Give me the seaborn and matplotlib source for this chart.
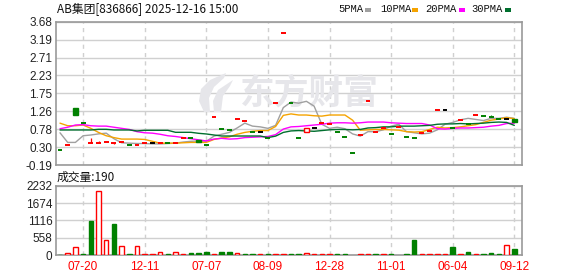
import numpy as np
import pandas as pd
import matplotlib
matplotlib.use("Agg")
import matplotlib.pyplot as plt
import seaborn as sns
from matplotlib.patches import Rectangle, PathPatch
from matplotlib.path import Path

# ---------------- data ----------------
title = "AB集团[836866] 2025-12-16 15:00"
xtick_labels = ["07-20", "12-11", "07-07", "08-09", "12-28", "11-01", "06-04", "09-12"]
price_tick_labels = ["-0.19", "0.30", "0.78", "1.26", "1.75", "2.23", "2.71", "3.19", "3.68"]
vol_tick_labels = ["0", "558", "1116", "1674", "2232"]
ma_names = ["5PMA", "10PMA", "20PMA", "30PMA"]

opens = [0.21, 0.35, 1.36, 0.94, 0.41, 0.40, 0.42, 0.41, 0.42, 0.35,
         0.35, 0.40, 0.40, 0.40, 0.40, 0.40, 0.53, 0.53, 0.48, 0.35,
         1.11, 0.79, 0.75, 1.05, 0.99, 0.70, 0.69, 0.55, 1.48, 3.37,
         1.48, 0.53, 0.69, 0.80, 0.94, 0.93, 0.69, 0.57, 0.13, 0.62,
         1.55, 0.69, 0.80, 0.65, 0.845, 0.56, 0.53, 0.67, 0.73, 1.30,
         1.30, 0.82, 1.02, 0.92, 1.16, 1.13, 1.11, 1.05, 1.06, 1.06]
closes = [0.21, 0.35, 1.17, 0.94, 0.41, 0.40, 0.42, 0.41, 0.42, 0.35,
          0.35, 0.40, 0.40, 0.40, 0.40, 0.40, 0.53, 0.53, 0.44, 0.35,
          1.11, 0.79, 0.75, 1.05, 0.99, 0.70, 0.69, 0.55, 1.48, 3.37,
          1.48, 0.53, 0.80, 0.80, 0.94, 0.93, 0.69, 0.57, 0.13, 0.62,
          1.55, 0.69, 0.80, 0.65, 0.845, 0.56, 0.53, 0.67, 0.73, 1.30,
          1.30, 0.82, 1.02, 0.92, 1.16, 1.13, 1.11, 1.05, 1.06, 0.98]
highs = [0.21, 0.35, 1.36, 0.94, 0.53, 0.46, 0.42, 0.41, 0.42, 0.35,
         0.35, 0.40, 0.40, 0.40, 0.40, 0.40, 0.53, 0.53, 0.48, 0.35,
         1.11, 0.79, 0.75, 1.05, 0.99, 0.70, 0.69, 0.55, 1.48, 3.37,
         1.48, 0.53, 0.80, 0.80, 0.94, 0.93, 0.69, 0.57, 0.13, 0.62,
         1.55, 0.69, 0.80, 0.65, 0.845, 0.56, 0.53, 0.67, 0.73, 1.30,
         1.30, 0.82, 1.02, 0.92, 1.16, 1.13, 1.16, 1.05, 1.06, 1.06]
lows = [0.21, 0.35, 1.17, 0.94, 0.41, 0.40, 0.42, 0.37, 0.42, 0.35,
        0.35, 0.40, 0.40, 0.40, 0.40, 0.40, 0.53, 0.53, 0.44, 0.35,
        1.11, 0.79, 0.75, 1.05, 0.99, 0.70, 0.69, 0.55, 1.48, 3.37,
        1.48, 0.53, 0.69, 0.80, 0.94, 0.93, 0.69, 0.57, 0.13, 0.62,
        1.55, 0.69, 0.80, 0.65, 0.845, 0.56, 0.53, 0.67, 0.73, 1.30,
        1.30, 0.82, 1.02, 0.92, 1.16, 1.13, 1.11, 1.05, 1.06, 0.98]
# candle direction: u = up, d = down, f = flat
candle_dir = list("duddu" "uuuud"
                  "uufud" "uuddd"
                  "udduu" "dfduu"
                  "ddufu" "udddu"
                  "uuudu" "dduuu"
                  "fdudu" "dddfd")
volumes = [15, 75, 250, 30, 1095, 2061, 483, 1009, 290, 30,
           290, 40, 40, 97, 30, 97, 40, 64, 64, 107,
           40, 107, 107, 64, 30, 30, 30, 30, 30, 30,
           30, 30, 64, 30, 30, 30, 30, 30, 0, 30,
           30, 30, 30, 30, 0, 30, 483, 30, 30, 30,
           30, 258, 30, 97, 30, 30, 64, 30, 322, 190]
vol_dir = list("duudd" "uudud"
               "uuuud" "uuddd"
               "uddud" "duduu"
               "dduuu" "udddu"
               "ududu" "dduuu"
               "ududu" "dddud")

ma5 = [0.68, 0.42, 0.42, 0.60, 0.62, 0.65, 0.67, 0.52, 0.41, 0.40,
       0.39, 0.39, 0.38, 0.38, 0.39, 0.40, 0.43, 0.45, 0.46, 0.45,
       0.59, 0.64, 0.69, 0.81, 0.94, 0.86, 0.84, 0.80, 0.88, 1.36,
       1.51, 1.48, 1.53, 1.40, 0.91, 0.80, 0.83, 0.79, 0.65, 0.59,
       0.71, 0.71, 0.76, 0.86, 0.91, 0.71, 0.68, 0.65, 0.67, 0.76,
       0.91, 0.96, 1.03, 1.07, 1.04, 1.01, 1.07, 1.07, 1.10, 1.07]
ma10 = [0.94, 0.87, 0.87, 0.89, 0.80, 0.69, 0.60, 0.55, 0.51, 0.51,
        0.51, 0.50, 0.45, 0.40, 0.40, 0.40, 0.41, 0.42, 0.42, 0.42,
        0.50, 0.54, 0.57, 0.64, 0.69, 0.72, 0.74, 0.74, 0.85, 1.15,
        1.19, 1.16, 1.16, 1.14, 1.13, 1.16, 1.16, 1.16, 1.02, 0.75,
        0.76, 0.77, 0.77, 0.76, 0.75, 0.71, 0.70, 0.71, 0.77, 0.83,
        0.81, 0.82, 0.84, 0.87, 0.90, 0.96, 1.02, 1.05, 1.09, 1.06]
ma20 = [0.79, 0.83, 0.89, 0.90, 0.87, 0.86, 0.86, 0.83, 0.80, 0.77,
        0.71, 0.68, 0.67, 0.64, 0.60, 0.58, 0.55, 0.52, 0.49, 0.46,
        0.51, 0.53, 0.51, 0.52, 0.55, 0.56, 0.57, 0.58, 0.63, 0.78,
        0.84, 0.85, 0.87, 0.89, 0.91, 0.94, 0.95, 0.95, 0.94, 0.95,
        0.97, 0.97, 0.97, 0.95, 0.94, 0.93, 0.93, 0.93, 0.89, 0.79,
        0.78, 0.80, 0.81, 0.81, 0.82, 0.83, 0.86, 0.88, 0.93, 0.94]
ma30 = [0.756, 0.756, 0.756, 0.756, 0.756, 0.774, 0.774, 0.756, 0.756, 0.756,
        0.73, 0.747, 0.747, 0.747, 0.747, 0.693, 0.693, 0.693, 0.666, 0.648,
        0.62, 0.593, 0.593, 0.593, 0.593, 0.593, 0.593, 0.55, 0.59, 0.69,
        0.73, 0.74, 0.73, 0.72, 0.74, 0.76, 0.77, 0.77, 0.76, 0.77,
        0.81, 0.82, 0.84, 0.84, 0.86, 0.86, 0.86, 0.87, 0.88, 0.91,
        0.92, 0.92, 0.93, 0.92, 0.93, 0.94, 0.96, 0.97, 0.96, 0.88]

# ---------------- style ----------------
sns.set_theme(style="white")
plt.rcParams["font.family"] = ["Liberation Sans", "Noto Sans CJK SC", "DejaVu Sans"]
RED, GREEN, BLACK = "#ff0000", "#008000", "#000000"
dir_color = {"u": RED, "d": GREEN, "f": BLACK}
ma_palette = dict(zip(ma_names, ["#a0a0a0", "#f5a300", "#ff00ff", "#006f2e"]))
GRID = "#d0d0d0"
SPINE = "#999999"
WM = "#e6e6ea"
CJK = ["Noto Sans CJK SC", "DejaVu Sans"]

W, H = 578, 276
fig = plt.figure(figsize=(W / 100, H / 100), dpi=100)
fig.patch.set_facecolor("white")
L, R = 56, 522
ax = fig.add_axes([L / W, 1 - 165 / H, (R - L) / W, (165 - 21.7) / H])
axv = fig.add_axes([L / W, 1 - 255 / H, (R - L) / W, (255 - 185.7) / H])

n = len(closes)
idx = np.arange(n)
xticks = np.arange(3, n, 8)

for a in (ax, axv):
    a.set_xlim(-0.52, n)
    a.set_xticks(xticks)
    a.grid(axis="x", color=GRID, linestyle=(0, (3, 3)), linewidth=1.0)
    a.grid(axis="y", color=GRID, linestyle="-", linewidth=1.0)
    a.set_axisbelow(True)
    for s in a.spines.values():
        s.set_color(SPINE)
        s.set_linewidth(1.2)
    a.tick_params(length=0, labelsize=8.5, colors="#222222")

# price axis
ax.set_ylim(-0.19, 3.68)
ax.set_yticks(np.linspace(-0.19, 3.68, len(price_tick_labels)))
ax.set_yticklabels(price_tick_labels)
ax.tick_params(axis="y", pad=2.5)
ax.set_xticklabels([])

# watermark (logo swoosh + text)
def fpt(x, y):
    return (x / W, 1 - y / H)

swoosh1 = [fpt(*p) for p in [(204, 112), (199, 101), (201, 89), (210, 80), (226, 73),
                             (224, 78), (214, 87), (209, 98), (210, 112)]]
swoosh2 = [fpt(*p) for p in [(214, 112), (213, 101), (218, 90), (233, 80),
                             (230, 86), (223, 96), (221, 112)]]
for pts in (swoosh1, swoosh2):
    codes = [Path.MOVETO] + [Path.LINETO] * (len(pts) - 1)
    ax.add_patch(PathPatch(Path(pts + [pts[0]], codes + [Path.CLOSEPOLY]),
                           transform=fig.transFigure, facecolor=WM,
                           edgecolor="none", zorder=0.6))
ax.text(240 / W, 1 - 93 / H, "东方财富", transform=fig.transFigure, fontsize=25,
        fontweight="bold", color=WM, family=CJK, ha="left", va="center",
        zorder=0.6)

# moving averages through seaborn
ma_df = pd.DataFrame({"idx": idx, "5PMA": ma5, "10PMA": ma10,
                      "20PMA": ma20, "30PMA": ma30}).melt(
    id_vars="idx", var_name="ma", value_name="price")
sns.lineplot(data=ma_df, x="idx", y="price", hue="ma", hue_order=ma_names,
             palette=ma_palette, linewidth=1.0, legend=False, ax=ax,
             estimator=None, zorder=2)
ax.set_xlabel("")
ax.set_ylabel("")

# candles
for i in range(n):
    o, c, h, lo, d = opens[i], closes[i], highs[i], lows[i], candle_dir[i]
    col = dir_color[d]
    if h > lo:
        ax.vlines(i, lo, h, color=col, linewidth=0.9, zorder=3)
    if o == c:
        ax.hlines(c, i - 0.32, i + 0.32, color=col, linewidth=1.4, zorder=4)
    else:
        face = "white" if c > o else col
        ax.bar(i, abs(c - o), bottom=min(o, c), width=0.6, facecolor=face,
               edgecolor=col, linewidth=1.0, zorder=4)

# volume
axv.set_ylim(0, 2232)
axv.set_yticks(np.linspace(0, 2232, len(vol_tick_labels)))
axv.set_yticklabels(vol_tick_labels)
axv.tick_params(axis="y", pad=2.5)
axv.set_xticklabels(xtick_labels, color=RED)
axv.tick_params(axis="x", pad=4.5, colors=RED)
for i in range(n):
    if volumes[i] <= 0:
        continue
    col = dir_color[vol_dir[i]]
    face = "white" if vol_dir[i] == "u" else col
    axv.bar(i, volumes[i], width=0.58, facecolor=face, edgecolor=col,
            linewidth=1.0, zorder=3)
axv.set_xlabel("")
axv.set_ylabel("")

# texts
fig.text(57 / W, 1 - 9.5 / H, title, fontsize=8.5, family=CJK,
         ha="left", va="center", color="#111111")
fig.text(57 / W, 1 - 177 / H, f"成交量:{volumes[-1]}", fontsize=8.5,
         family=CJK, ha="left", va="center", color="#111111")

# legend (label then colour chip)
leg_x = [338, 380, 425, 471]
chip_x = [365, 412, 459, 505]
for name, tx, cx in zip(ma_names, leg_x, chip_x):
    fig.text(tx / W, 1 - 9.5 / H, name, fontsize=7.6, family=["Liberation Mono", "DejaVu Sans"],
             ha="left", va="center", color="#111111")
    fig.patches.append(Rectangle((cx / W, 1 - 11.5 / H), 6 / W, 3.5 / H,
                                 transform=fig.transFigure,
                                 facecolor=ma_palette[name], edgecolor="none"))

fig.savefig("out.png", dpi=100)
